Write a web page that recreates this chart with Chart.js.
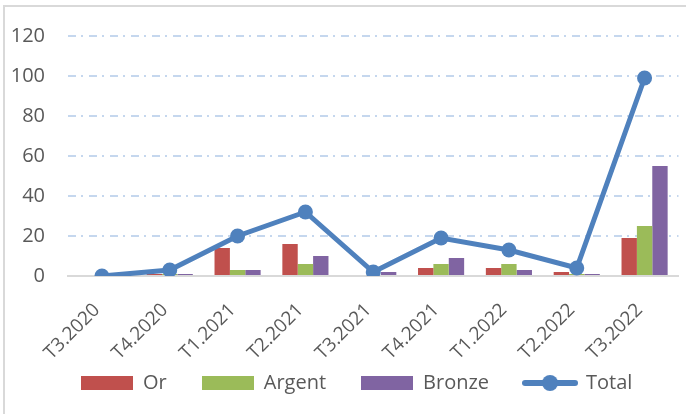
<!DOCTYPE html>
<html>
<head>
<meta charset="utf-8">
<script src="https://cdn.jsdelivr.net/npm/chart.js@4"></script>
<style>
  body { margin: 0; background: #fff; }
  #wrap { position: relative; width: 686px; height: 414px; }
  #frame { position: absolute; left: 3px; top: 5px; right: 0; bottom: 0;
           border-left: 2px solid #d9d9d9; border-top: 2px solid #d9d9d9; }
  canvas { position: absolute; left: 0; top: 0; }
</style>
</head>
<body>
<div id="wrap">
  <div id="frame"></div>
  <canvas id="medalChart" width="686" height="414"></canvas>
</div>
<script>
const quarters = ['T3.2020', 'T4.2020', 'T1.2021', 'T2.2021', 'T3.2021', 'T4.2021', 'T1.2022', 'T2.2022', 'T3.2022'];
const orValues = [0, 1, 14, 16, 0, 4, 4, 2, 19];
const argentValues = [0, 1, 3, 6, 0, 6, 6, 1, 25];
const bronzeValues = [0, 1, 3, 10, 2, 9, 3, 1, 55];
const totalValues = [0, 3, 20, 32, 2, 19, 13, 4, 99];

const FONT = '"Open Sans", "Noto Sans", sans-serif';
const TEXT = '#595959';
const colors = { or: '#c0504d', argent: '#9bbb59', bronze: '#8064a2', total: '#4f81bd' };

// legend icons: flat boxes for bars, line with a dot for the total
function boxIcon(color) {
    const c = document.createElement('canvas');
    c.width = 52; c.height = 14;
    const g = c.getContext('2d');
    g.fillStyle = color;
    g.fillRect(0, 0, 52, 14);
    return c;
}
function lineIcon(color) {
    const c = document.createElement('canvas');
    c.width = 56; c.height = 18;
    const g = c.getContext('2d');
    g.strokeStyle = color;
    g.lineWidth = 6;
    g.lineCap = 'round';
    g.beginPath(); g.moveTo(3, 9); g.lineTo(53, 9); g.stroke();
    g.fillStyle = color;
    g.beginPath(); g.arc(28, 9, 8, 0, Math.PI * 2); g.fill();
    return c;
}
const legendIcons = [boxIcon(colors.or), boxIcon(colors.argent), boxIcon(colors.bronze), lineIcon(colors.total)];

// nudge the legend so it starts where the original one does
const legendNudge = {
    id: 'legendNudge',
    afterLayout(chart) {
        chart.legend.left += 38;
    }
};

const ctx = document.getElementById('medalChart').getContext('2d');
new Chart(ctx, {
    type: 'bar',
    data: {
        labels: quarters,
        datasets: [{
            label: 'Or',
            data: orValues,
            backgroundColor: colors.or
        }, {
            label: 'Argent',
            data: argentValues,
            backgroundColor: colors.argent
        }, {
            label: 'Bronze',
            data: bronzeValues,
            backgroundColor: colors.bronze
        }, {
            type: 'line',
            label: 'Total',
            data: totalValues,
            borderColor: colors.total,
            backgroundColor: colors.total,
            borderWidth: 5,
            pointRadius: 7.5,
            pointBackgroundColor: colors.total,
            pointBorderWidth: 0,
            tension: 0,
            order: -1
        }]
    },
    options: {
        responsive: false,
        animation: false,
        datasets: {
            bar: { categoryPercentage: 0.68, barPercentage: 1 }
        },
        layout: { padding: { left: 8, top: 36, right: 6, bottom: 11 } },
        scales: {
            x: {
                grid: { display: false, drawTicks: false },
                border: { display: true, color: '#d9d9d9', width: 2 },
                ticks: {
                    color: TEXT,
                    font: { family: FONT, size: 19 },
                    minRotation: 45,
                    maxRotation: 45,
                    padding: 23,
                    labelOffset: -5
                },
                afterFit: s => {
                    s.height = 62;
                    s.paddingLeft = 0;
                    s.paddingRight = 0;
                    // the rotated labels run past the axis box, don't clip them
                    s._computeLabelArea = () => null;
                }
            },
            y: {
                min: 0,
                max: 120,
                grid: {
                    drawTicks: false,
                    color: c => c.tick.value === 0 ? 'rgba(0,0,0,0)' : '#c5d7ee',
                    lineWidth: 2
                },
                border: { display: false, dash: [8, 5, 2, 6] },
                ticks: {
                    stepSize: 20,
                    color: TEXT,
                    font: { family: FONT, size: 20 },
                    padding: 23
                },
                afterFit: s => { s.width = 60; }
            }
        },
        plugins: {
            tooltip: { enabled: false },
            legend: {
                position: 'bottom',
                align: 'start',
                labels: {
                    usePointStyle: true,
                    pointStyleWidth: 52,
                    boxHeight: 14,
                    padding: 35,
                    color: TEXT,
                    font: { family: FONT, size: 20 },
                    sort: (a, b) => a.datasetIndex - b.datasetIndex,
                    generateLabels: chart => Chart.defaults.plugins.legend.labels.generateLabels(chart).map(item => {
                        item.pointStyle = legendIcons[item.datasetIndex];
                        return item;
                    })
                }
            }
        }
    },
    plugins: [legendNudge]
});
</script>
</body>
</html>
